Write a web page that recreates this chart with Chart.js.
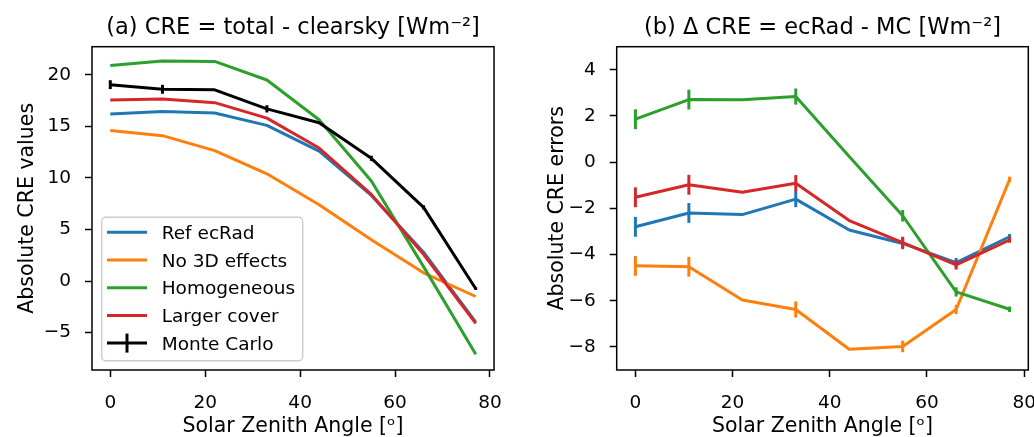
<!DOCTYPE html>
<html>
<head>
<meta charset="utf-8">
<script src="https://cdn.jsdelivr.net/npm/chart.js@4.4.0/dist/chart.umd.min.js"></script>
<style>
    html, body { margin: 0; padding: 0; background: #fff; overflow: hidden; }
    #wrap { position: relative; width: 1034px; height: 437px; overflow: hidden; }
    .panel { position: absolute; top: 0; height: 437px; }
    #left { left: 0; width: 517px; }
    #right { left: 517px; width: 540px; }
</style>
</head>
<body>
<div id="wrap">
    <div class="panel" id="left"><canvas id="cre" width="517" height="437"></canvas></div>
    <div class="panel" id="right"><canvas id="err" width="540" height="437"></canvas></div>
</div>
<script>
// solar zenith angles [deg] and the Monte Carlo uncertainty at each
const angles = [0, 11, 22, 33, 44, 55, 66, 77];
const mcError = [0.43, 0.43, 0, 0.35, 0, 0.25, 0.2, 0.12];

// (a) absolute CRE values
const creRef = [16.2, 16.45, 16.3, 15.1, 12.6, 8.3, 2.8, -4.0];
const creNo3D = [14.6, 14.1, 12.65, 10.4, 7.4, 4.0, 0.8, -1.5];
const creHomog = [20.9, 21.35, 21.3, 19.5, 15.65, 9.7, 1.4, -7.1];
const creCover = [17.55, 17.65, 17.3, 15.8, 12.9, 8.4, 2.6, -4.1];
const creMC = [19.05, 18.6, 18.55, 16.7, 15.35, 11.9, 7.15, -0.75];

// (b) ecRad - MC errors
const errRef = [-2.8, -2.2, -2.27, -1.6, -2.94, -3.52, -4.35, -3.23];
const errNo3D = [-4.49, -4.53, -5.97, -6.38, -8.1, -7.98, -6.38, -0.75];
const errHomog = [1.86, 2.71, 2.7, 2.84, 0.25, -2.32, -5.62, -6.37];
const errCover = [-1.52, -0.98, -1.3, -0.91, -2.53, -3.48, -4.45, -3.37];

// tick labels
const xTicks = [0, 20, 40, 60, 80];
const creTicks = [-5, 0, 5, 10, 15, 20];
const errTicks = [-8, -6, -4, -2, 0, 2, 4];

const seriesNames = ["Ref ecRad", "No 3D effects", "Homogeneous", "Larger cover", "Monte Carlo"];
const colors = ["#1f77b4", "#ff7f0e", "#2ca02c", "#d62728", "#000000"];

Chart.defaults.font.family = "'DejaVu Sans', sans-serif";
Chart.defaults.color = "#000";

const minusFmt = (v) => (v < 0 ? "\u2212" + Math.abs(v) : String(v));

const makeSet = (idx, values, total, errors) => ({
    label: seriesNames[idx],
    data: values.map((v, i) => ({ x: angles[i], y: v })),
    borderColor: colors[idx],
    backgroundColor: colors[idx],
    borderWidth: 3,
    borderJoinStyle: "round",
    pointRadius: 0,
    tension: 0,
    fill: false,
    // first dataset is drawn first, later ones on top
    order: total - idx,
    errors: errors || null
});

// vertical error bars, drawn right after each dataset
const errorBars = {
    id: "errorBars",
    afterDatasetDraw(chart, args) {
        const ds = chart.data.datasets[args.index];
        if (!ds.errors) {
            return;
        }
        const { ctx, scales: { x, y } } = chart;
        ctx.save();
        ctx.strokeStyle = ds.borderColor;
        ctx.lineWidth = ds.borderWidth;
        ds.data.forEach((p, i) => {
            const e = ds.errors[i];
            if (!e) {
                return;
            }
            const px = x.getPixelForValue(p.x);
            ctx.beginPath();
            ctx.moveTo(px, y.getPixelForValue(p.y - e));
            ctx.lineTo(px, y.getPixelForValue(p.y + e));
            ctx.stroke();
        });
        ctx.restore();
    }
};

// full box around the axes, like matplotlib spines
const frame = {
    id: "frame",
    afterDatasetsDraw(chart) {
        const { ctx, chartArea: a } = chart;
        ctx.save();
        ctx.strokeStyle = "#000";
        ctx.lineWidth = 1.5;
        ctx.strokeRect(a.left, a.top, a.right - a.left, a.bottom - a.top);
        ctx.restore();
    }
};

// legend box inside the axes (lower left)
const boxLegend = {
    id: "boxLegend",
    afterDraw(chart, args, opts) {
        if (!opts.display) {
            return;
        }
        const ctx = chart.ctx;
        ctx.save();
        ctx.beginPath();
        ctx.roundRect(opts.x, opts.y, opts.width, opts.height, 4);
        ctx.fillStyle = "rgba(255,255,255,0.8)";
        ctx.fill();
        ctx.strokeStyle = "#cccccc";
        ctx.lineWidth = 1.4;
        ctx.stroke();

        ctx.font = `${opts.fontSize}px 'DejaVu Sans'`;
        ctx.textBaseline = "alphabetic";
        ctx.textAlign = "left";
        chart.data.datasets.forEach((ds, i) => {
            const cy = opts.y + opts.firstRow + i * opts.rowHeight;
            const x0 = opts.x + opts.handleLeft;
            ctx.strokeStyle = ds.borderColor;
            ctx.lineWidth = ds.borderWidth;
            ctx.beginPath();
            ctx.moveTo(x0, cy);
            ctx.lineTo(x0 + opts.handleLength, cy);
            ctx.stroke();
            if (ds.errors) {
                const mx = x0 + opts.handleLength / 2;
                ctx.beginPath();
                ctx.moveTo(mx, cy - opts.barHalf);
                ctx.lineTo(mx, cy + opts.barHalf);
                ctx.stroke();
            }
            ctx.fillStyle = "#000";
            ctx.fillText(ds.label, opts.x + opts.textLeft, cy + opts.fontSize * 0.365);
        });
        ctx.restore();
    }
};

const makeOptions = (cfg) => ({
    responsive: false,
    animation: false,
    layout: { padding: { left: 0, right: cfg.padRight, top: 0, bottom: 0 } },
    plugins: {
        legend: { display: false },
        tooltip: { enabled: false },
        title: {
            display: true,
            fullSize: false,
            text: cfg.title,
            color: "#000",
            font: { size: 22.5, weight: "normal", lineHeight: 1.2 },
            padding: { top: 15, bottom: 4.7 }
        },
        boxLegend: cfg.legend
    },
    scales: {
        x: {
            type: "linear",
            min: -3.85,
            max: 80.85,
            afterBuildTicks: (s) => { s.ticks = xTicks.map((v) => ({ value: v })); },
            afterFit: (s) => { s.height = 67; },
            border: { display: false },
            grid: { drawOnChartArea: false, drawTicks: true, tickLength: 7, tickWidth: 1.5, tickColor: "#000" },
            ticks: { autoSkip: false, maxRotation: 0, padding: 15, font: { size: 18.5 }, callback: minusFmt },
            title: {
                display: true,
                text: "Solar Zenith Angle [\u1D52]",
                font: { size: 20.5, lineHeight: 1.0 },
                padding: { top: 0, bottom: 0 }
            }
        },
        y: {
            type: "linear",
            min: cfg.yMin,
            max: cfg.yMax,
            afterBuildTicks: (s) => { s.ticks = cfg.yTicks.map((v) => ({ value: v })); },
            afterFit: (s) => { s.width = cfg.yWidth; },
            border: { display: false },
            grid: { drawOnChartArea: false, drawTicks: true, tickLength: 7, tickWidth: 1.5, tickColor: "#000" },
            ticks: { autoSkip: false, padding: 14, font: { size: 18.5 }, callback: minusFmt },
            title: {
                display: true,
                text: cfg.yTitle,
                font: { size: 20.5, lineHeight: 1.2 },
                padding: { top: cfg.yTitlePad, bottom: 0 }
            }
        }
    }
});

new Chart(document.getElementById("cre"), {
    type: "line",
    data: {
        datasets: [
            makeSet(0, creRef, 5),
            makeSet(1, creNo3D, 5),
            makeSet(2, creHomog, 5),
            makeSet(3, creCover, 5),
            makeSet(4, creMC, 5, mcError)
        ]
    },
    options: makeOptions({
        title: "(a) CRE = total - clearsky [Wm\u207B\u00B2]",
        yTitle: "Absolute CRE values",
        yMin: -8.63,
        yMax: 22.73,
        yTicks: creTicks,
        yWidth: 92,
        yTitlePad: 15,
        padRight: 13,
        legend: {
            display: true,
            x: 101.7, y: 217.3, width: 201, height: 143.4,
            firstRow: 15, rowHeight: 27.7,
            handleLeft: 5.3, handleLength: 40, barHalf: 9.5,
            textLeft: 60, fontSize: 18.5
        }
    }),
    plugins: [errorBars, frame, boxLegend]
});

new Chart(document.getElementById("err"), {
    type: "line",
    data: {
        datasets: [
            makeSet(0, errRef, 4, mcError),
            makeSet(1, errNo3D, 4, mcError),
            makeSet(2, errHomog, 4, mcError),
            makeSet(3, errCover, 4, mcError)
        ]
    },
    options: makeOptions({
        title: "(b) \u0394 CRE = ecRad - MC [Wm\u207B\u00B2]",
        yTitle: "Absolute CRE errors",
        yMin: -9,
        yMax: 5,
        yTicks: errTicks,
        yWidth: 99.7,
        yTitlePad: 28,
        padRight: 28.7,
        legend: { display: false }
    }),
    plugins: [errorBars, frame, boxLegend]
});
</script>
</body>
</html>
